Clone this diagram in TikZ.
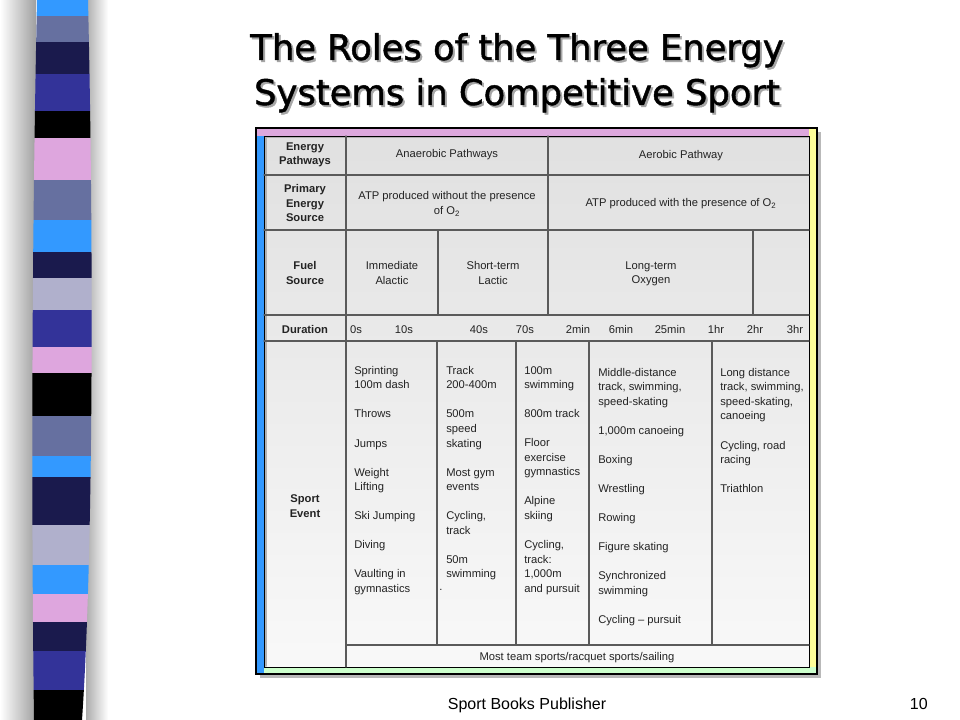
\documentclass[tikz,border=0pt]{standalone}
\usepackage{fontspec}
\setmainfont{Liberation Sans}
\newfontfamily\titlefont[FakeBold=1.3]{DejaVu Sans}
\definecolor{barlightblue}{RGB}{51,153,255}
\definecolor{barslate}{RGB}{102,112,160}
\definecolor{barnavy}{RGB}{26,26,77}
\definecolor{barblue}{RGB}{51,51,153}
\definecolor{barpink}{RGB}{222,166,222}
\definecolor{barlavender}{RGB}{176,176,204}
\definecolor{framepink}{RGB}{221,168,221}
\definecolor{frameyellow}{RGB}{255,255,153}
\definecolor{frameblue}{RGB}{51,153,255}
\definecolor{framegreen}{RGB}{204,255,204}
\definecolor{celltext}{RGB}{35,35,35}
\definecolor{gridgrey}{RGB}{90,90,90}
\newcommand{\tabfont}{\fontsize{8.4}{10.9}\selectfont}
\newcommand{\evgap}{10.9pt}

\begin{document}
\begin{tikzpicture}[x=0.75pt, y=-0.75pt, line cap=round,
    titletext/.style={font=\titlefont\fontsize{26.5}{32}\selectfont, anchor=base, inner sep=0pt},
    lbl/.style={font=\tabfont\bfseries, align=center, text=celltext, inner sep=0pt},
    cell/.style={font=\tabfont, align=center, text=celltext, inner sep=0pt},
    tick/.style={font=\tabfont, anchor=base, text=celltext, inner sep=0pt},
    evt/.style={font=\tabfont, align=left, anchor=north west, text=celltext, inner sep=0pt},
    gridline/.style={gridgrey, line width=0.9pt}]
        \useasboundingbox (0,0) rectangle (960,720);
        \fill[white] (0,0) rectangle (960,720);

        % striped bar on the left
        \shade[left color=white, right color=gray!75] (0,0) rectangle (36,720);
        \shade[left color=gray!65, right color=white] (86,0) rectangle (108,720);
        \begin{scope}
        \clip (37,0) .. controls (32,240) and (31,480) .. (34,720) -- (82,720) .. controls (93,560) and (94,260) .. (88,0) -- cycle;
        \fill[barlightblue] (30,0) rectangle (100,16);
        \fill[barslate] (30,16) rectangle (100,42);
        \fill[barnavy] (30,42) rectangle (100,74);
        \fill[barblue] (30,74) rectangle (100,111);
        \fill[black] (30,111) rectangle (100,138);
        \fill[barpink] (30,138) rectangle (100,180);
        \fill[barslate] (30,180) rectangle (100,220);
        \fill[barlightblue] (30,220) rectangle (100,252);
        \fill[barnavy] (30,252) rectangle (100,278);
        \fill[barlavender] (30,278) rectangle (100,310);
        \fill[barblue] (30,310) rectangle (100,347);
        \fill[barpink] (30,347) rectangle (100,373);
        \fill[black] (30,373) rectangle (100,416);
        \fill[barslate] (30,416) rectangle (100,456);
        \fill[barlightblue] (30,456) rectangle (100,477);
        \fill[barnavy] (30,477) rectangle (100,525);
        \fill[barlavender] (30,525) rectangle (100,565);
        \fill[barlightblue] (30,565) rectangle (100,594);
        \fill[barpink] (30,594) rectangle (100,622);
        \fill[barnavy] (30,622) rectangle (100,651);
        \fill[barblue] (30,651) rectangle (100,690);
        \fill[black] (30,690) rectangle (100,720);
        \end{scope}

        % title
        \node[titletext, text=gray!70] (titletopshadow) at (519,62) {The Roles of the Three Energy};
        \node[titletext] (titletop) at (517,60) {The Roles of the Three Energy};
        \node[titletext, text=gray!70] (titlebottomshadow) at (519,107) {Systems in Competitive Sport};
        \node[titletext] (titlebottom) at (517,105) {Systems in Competitive Sport};

        % frame
        \fill[gray!55] (260,132) rectangle (821,678);
        \shade[top color=gray!24, bottom color=gray!5] (264,136) rectangle (809,667);
        \fill[framepink] (256,128) rectangle (809,136);
        \fill[frameyellow] (809,128) rectangle (817,667);
        \fill[frameblue] (256,136) rectangle (264,674);
        \fill[framegreen] (264,667) rectangle (817,674);
        \draw[gray!60, line width=1.5pt] (265.5,666) -- (265.5,137.5) -- (808,137.5);
        \draw[line width=0.6pt] (264,136) rectangle (809,667);
        \draw[line width=0.9pt] (256,128) rectangle (817,674);

        % table lines
        \draw[gridline] (264,175) -- (809,175);
        \draw[gridline] (264,230) -- (809,230);
        \draw[gridline] (264,315) -- (809,315);
        \draw[gridline] (264,341) -- (809,341);
        \draw[gridline] (346,645) -- (809,645);
        \draw[gridline] (346,136) -- (346,667);
        \draw[gridline] (548,136) -- (548,315);
        \draw[gridline] (438,230) -- (438,315);
        \draw[gridline] (753,230) -- (753,315);
        \draw[gridline] (437,341) -- (437,645);
        \draw[gridline] (516,341) -- (516,645);
        \draw[gridline] (589,341) -- (589,645);
        \draw[gridline] (712,341) -- (712,645);

        % row labels
        \node[lbl] (pathwayslbl) at (305,155) {Energy\\Pathways};
        \node[lbl] (sourcelbl) at (305,203) {Primary\\Energy\\Source};
        \node[lbl] (fuellbl) at (305,273) {Fuel\\Source};
        \node[lbl, anchor=base] (durationlbl) at (305,333) {Duration};
        \node[lbl] (eventlbl) at (305,506) {Sport\\Event};

        % cells
        \node[cell] (anaerobic) at (447,155) {Anaerobic Pathways};
        \node[cell] (aerobic) at (681,156) {Aerobic Pathway};
        \node[cell] (withouto2) at (447,204) {ATP produced without the presence\\of O\textsubscript{2}};
        \node[cell] (witho2) at (681,204) {ATP produced with the presence of O\textsubscript{2}};
        \node[cell] (immediate) at (392,273) {Immediate\\Alactic};
        \node[cell] (shortterm) at (493,273) {Short-term\\Lactic};
        \node[cell] (longterm) at (651,274) {Long-term\\Oxygen};

        % durations
        \node[tick] (t0s) at (356,333) {0s};
        \node[tick] (t10s) at (404,333) {10s};
        \node[tick] (t40s) at (479,333) {40s};
        \node[tick] (t70s) at (525,333) {70s};
        \node[tick] (t2min) at (578,333) {2min};
        \node[tick] (t6min) at (621,333) {6min};
        \node[tick] (t25min) at (670,333) {25min};
        \node[tick] (t1hr) at (716,333) {1hr};
        \node[tick] (t2hr) at (755,333) {2hr};
        \node[tick] (t3hr) at (795,333) {3hr};

        % sport events
        \node[evt] (alacticev) at (354,366) {Sprinting\\100m dash\\[\evgap]Throws\\[\evgap]Jumps\\[\evgap]Weight\\Lifting\\[\evgap]Ski Jumping\\[\evgap]Diving\\[\evgap]Vaulting in\\gymnastics};
        \node[evt] (lacticev) at (446,366) {Track\\200-400m\\[\evgap]500m\\speed\\skating\\[\evgap]Most gym\\events\\[\evgap]Cycling,\\track\\[\evgap]50m\\swimming};
        \node[cell] (straydot) at (441,590) {.};
        \node[evt] (mixedev) at (524,366) {100m\\swimming\\[\evgap]800m track\\[\evgap]Floor\\exercise\\gymnastics\\[\evgap]Alpine\\skiing\\[\evgap]Cycling,\\track:\\1,000m\\and pursuit};
        \node[evt] (middleev) at (598,368) {Middle-distance\\track, swimming,\\speed-skating\\[\evgap]1,000m canoeing\\[\evgap]Boxing\\[\evgap]Wrestling\\[\evgap]Rowing\\[\evgap]Figure skating\\[\evgap]Synchronized\\swimming\\[\evgap]Cycling -- pursuit};
        \node[evt] (longev) at (720,368) {Long distance\\track, swimming,\\speed-skating,\\canoeing\\[\evgap]Cycling, road\\racing\\[\evgap]Triathlon};
        \node[cell] (teamev) at (577,658) {Most team sports/racquet sports/sailing};

        % footer
        \node[anchor=base, inner sep=0pt, font=\fontsize{12}{14}\selectfont] (publisher) at (527,709) {Sport Books Publisher};
        \node[anchor=base east, inner sep=0pt, font=\fontsize{12}{14}\selectfont] (pagenum) at (928,709) {10};
    \end{tikzpicture}
\end{document}
